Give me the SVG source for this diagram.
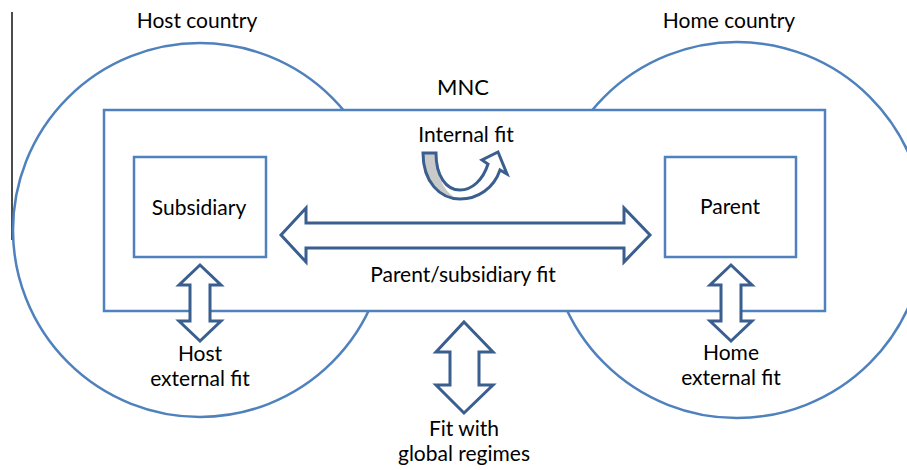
<svg xmlns="http://www.w3.org/2000/svg" width="907" height="470" viewBox="0 0 907 470">
<style>
.ctry{fill:none;stroke:#4F81BD;stroke-width:2.5}
.box{fill:#fff;stroke:#4F81BD;stroke-width:2.5}
.arr{fill:#fff;stroke:#3A5F8F;stroke-width:3;stroke-linejoin:miter}
text{font-family:Lato,"Open Sans","Liberation Sans",sans-serif;font-size:21px;fill:#000;text-anchor:middle}
</style>
<rect width="907" height="470" fill="#fff"/>
<line x1="12" y1="12" x2="12" y2="240" stroke="#111" stroke-width="1.5"/>
<g id="host-country">
<circle class="ctry" cx="200" cy="230" r="187"/>
<text x="197" y="28">Host country</text>
</g>
<g id="home-country">
<circle class="ctry" cx="737" cy="230" r="188"/>
<text x="729" y="28">Home country</text>
</g>
<g id="mnc">
<rect class="box" x="104" y="110" width="721" height="201"/>
<text x="463" y="95" style="font-size:22px">MNC</text>
</g>
<g id="subsidiary">
<rect class="box" x="134" y="157" width="132" height="100"/>
<text x="199" y="215">Subsidiary</text>
</g>
<g id="parent">
<rect class="box" x="665" y="157" width="131" height="100"/>
<text x="730" y="214">Parent</text>
</g>
<g id="connectors">
<g id="internal-fit">
<path d="M423,153 C423,182 440,199 460,199 C478,199 494,188 500,170 L507,174 L498,152 L482,160 L488,164 C483,180 472,190 460,190 C446,190 436,176 436,153 Z" fill="#fff" stroke="none"/>
<path d="M424,153 C424,182 440,198 458,199 C446,194 436,178 435,153 Z" fill="#C9C9C9"/>
<path d="M423,153 C423,182 440,199 460,199 C478,199 494,188 500,170 L507,174 L498,152 L482,160 L488,164 C483,180 472,190 460,190 C446,190 436,176 436,153 Z" fill="none" stroke="#3A5F8F" stroke-width="3" stroke-linejoin="miter"/>
<text x="466" y="142">Internal fit</text>
</g>
<g id="parent-subsidiary-fit">
<polygon class="arr" points="281,235 306,208 306,223 624,223 624,208 650,235 624,262 624,248 306,248 306,262"/>
<text x="463" y="282">Parent/subsidiary fit</text>
</g>
<g id="host-external-fit">
<polygon class="arr" points="200,265 221,285 210,285 210,321 221,321 200,341 179,321 190,321 190,285 179,285"/>
<text x="200" y="361">Host</text>
<text x="200" y="386">external fit</text>
</g>
<g id="home-external-fit">
<polygon class="arr" points="731,265 752,285 741,285 741,321 752,321 731,341 710,321 721,321 721,285 710,285"/>
<text x="731" y="360">Home</text>
<text x="731" y="385">external fit</text>
</g>
<g id="global-fit">
<polygon class="arr" points="464,322 493,352 479,352 479,385 493,385 464,413 436,385 450,385 450,352 436,352"/>
<text x="464" y="436">Fit with</text>
<text x="464" y="461">global regimes</text>
</g>
</g>
</svg>
